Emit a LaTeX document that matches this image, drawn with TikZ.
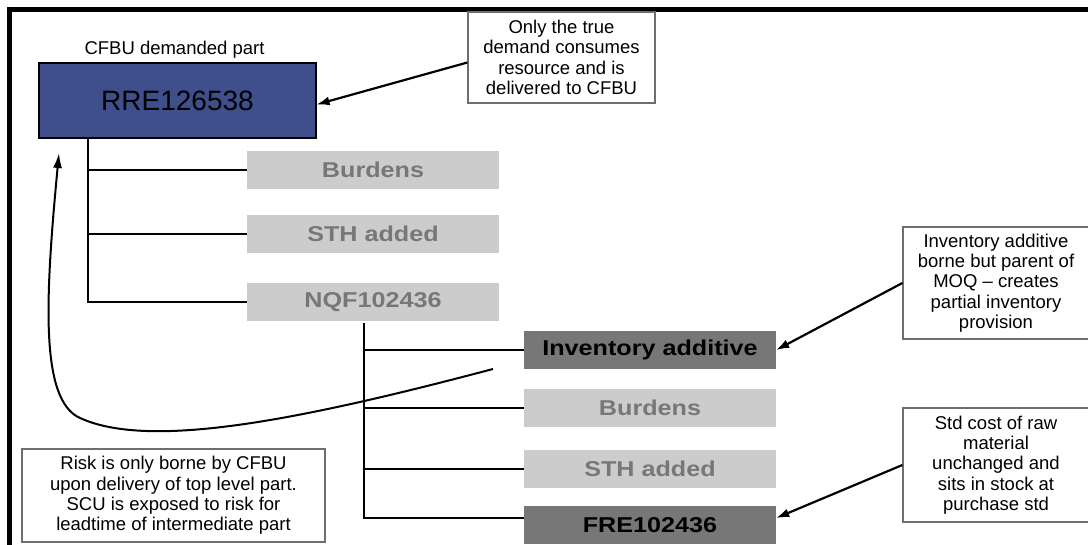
\documentclass[tikz,border=0pt]{standalone}
\usepackage{fontspec}
\setmainfont{Liberation Sans}
\usetikzlibrary{arrows.meta,calc}
\definecolor{navy}{RGB}{63,79,140}
\definecolor{lightbox}{RGB}{204,204,204}
\definecolor{darkbox}{RGB}{119,119,119}
\definecolor{greytext}{RGB}{119,119,119}
\definecolor{noteline}{RGB}{110,110,110}
% wide bold labels used inside the part boxes
\newcommand{\wideb}[1]{\scalebox{1.17}[1]{\bfseries #1}}

\begin{document}
\begin{tikzpicture}[x=1pt,y=-1pt,
  part/.style={minimum width=252pt, minimum height=38pt, inner sep=0pt,
               font=\fontsize{21.5}{24}\selectfont},
  minor/.style={part, fill=lightbox, text=greytext},
  major/.style={part, fill=darkbox, text=black},
  note/.style={draw=noteline, line width=1.2pt, fill=white, inner sep=0pt,
               align=center, font=\fontsize{18.5}{20.3}\selectfont},
  tree/.style={line width=1.5pt},
  pointer/.style={line width=2.2pt, -{Latex[length=13pt,width=9pt]}},
]
\useasboundingbox (0,0) rectangle (1088,545);

% outer frame (top and left edges)
\draw[line width=4.5pt] (9.5,560) -- (9.5,9.5) -- (1100,9.5);

% top level part
\node[font=\fontsize{18.5}{20}\selectfont] (cfbu) at (174.5,50) {CFBU demanded part};
\node[draw=black, line width=1.2pt, fill=navy, minimum width=277pt, minimum height=75pt,
      inner sep=0pt, font=\fontsize{28}{30}\selectfont] (rre) at (177.5,100.5) {RRE126538};

% first level
\node[minor] (b1) at (373,170) {\wideb{Burdens}};
\node[minor] (s1) at (373,234) {\wideb{STH added}};
\node[minor] (nqf) at (373,302) {\wideb{NQF102436}};

% second level
\node[major] (inv) at (650,350) {\wideb{Inventory additive}};
\node[minor] (b2) at (650,408) {\wideb{Burdens}};
\node[minor] (s2) at (650,469) {\wideb{STH added}};
\node[major] (fre) at (650,525) {\wideb{FRE102436}};

% tree connectors
\coordinate (t1) at (88,138);
\draw[tree] (t1) |- (nqf.west);
\draw[tree] (t1 |- b1.west) -- (b1.west);
\draw[tree] (t1 |- s1.west) -- (s1.west);

\coordinate (t2) at (364,323);
\coordinate (freleft) at ([yshift=7pt]fre.west);
\draw[tree] (t2) |- (freleft);
\draw[tree] (t2 |- inv.west) -- (inv.west);
\draw[tree] (t2 |- b2.west) -- (b2.west);
\draw[tree] (t2 |- s2.west) -- (s2.west);

% explanatory notes
\node[note, minimum width=187pt, minimum height=91pt] (c1) at (561.5,57.5)
  {Only the true\\demand consumes\\resource and is\\delivered to CFBU};
\node[note, minimum width=186pt, minimum height=112pt] (c2) at (996,283)
  {Inventory additive\\borne but parent of\\MOQ -- creates\\partial inventory\\provision};
\node[note, minimum width=186pt, minimum height=114pt] (c3) at (996,465)
  {Std cost of raw\\material\\unchanged and\\sits in stock at\\purchase std};
\node[note, minimum width=303pt, minimum height=93pt] (risk) at (173.5,495.5)
  {Risk is only borne by CFBU\\upon delivery of top level part.\\SCU is exposed to risk for\\leadtime of intermediate part};

% note pointers
\draw[pointer] ([yshift=-5pt]c1.west) -- ([yshift=-4pt]rre.east);
\draw[pointer] (c2.west) -- (inv.east);
\draw[pointer] (c3.west) -- ([yshift=7pt]fre.east);

% return loop to the top level part
\coordinate (loopstart) at (493,369);
\coordinate (looptip) at (59,153);
\draw[line width=2pt, -{Latex[length=15pt,width=9pt]}]
  (loopstart) .. controls (300,420) and (150,450) .. (80,418)
              .. controls (40,400) and (45,300) .. (looptip);
\end{tikzpicture}
\end{document}
